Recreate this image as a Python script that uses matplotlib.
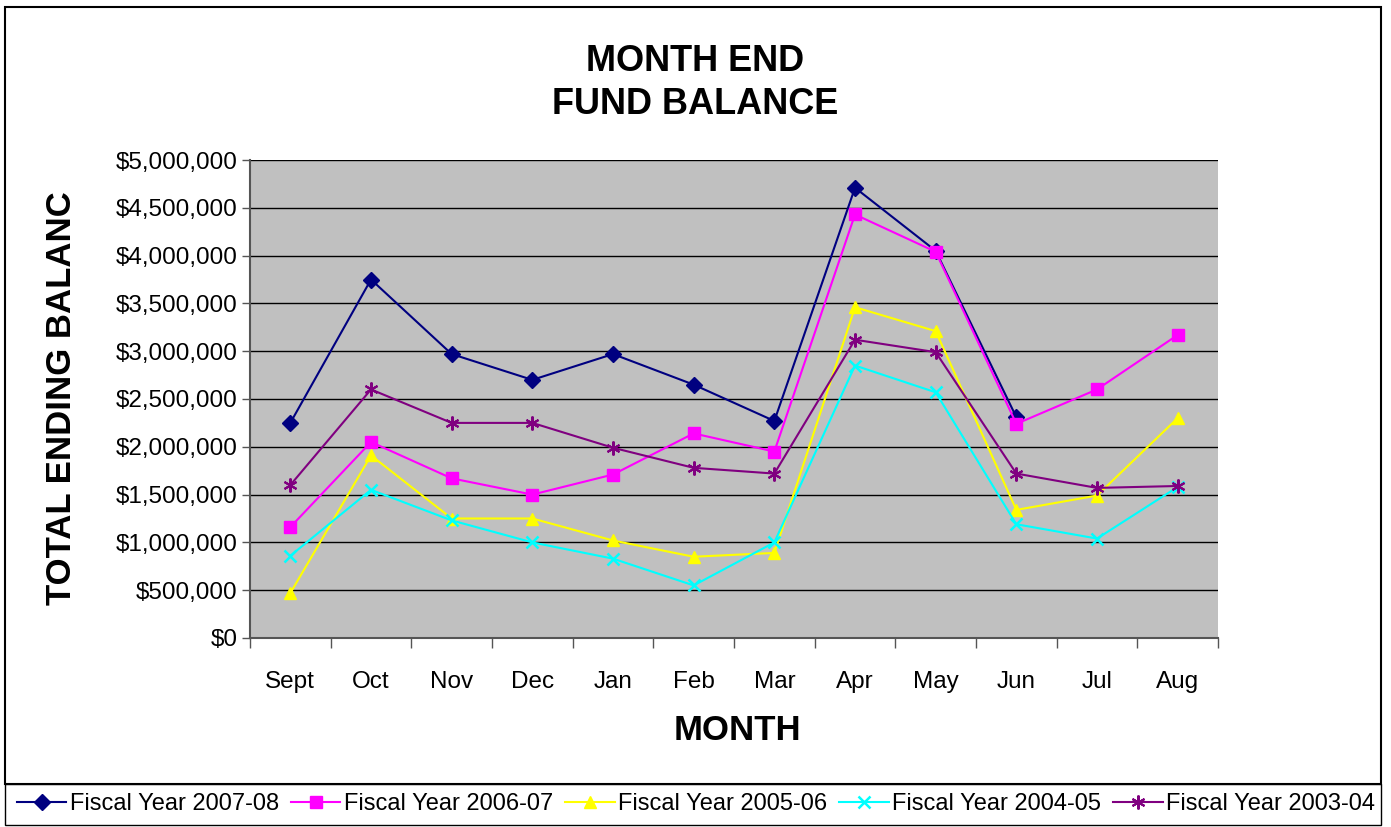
import numpy as np
import matplotlib
matplotlib.use('Agg')
import matplotlib.pyplot as plt
from matplotlib.patches import Rectangle
from matplotlib.ticker import FuncFormatter, MultipleLocator

plt.rcParams['font.family'] = ['Liberation Sans', 'DejaVu Sans']

months = ['Sept', 'Oct', 'Nov', 'Dec', 'Jan', 'Feb', 'Mar', 'Apr', 'May', 'Jun', 'Jul', 'Aug']

fy2007 = [2250000, 3750000, 2970000, 2700000, 2970000, 2650000, 2270000, 4710000, 4050000, 2310000, np.nan, np.nan]
fy2006 = [1160000, 2050000, 1670000, 1500000, 1710000, 2140000, 1950000, 4430000, 4040000, 2240000, 2600000, 3170000]
fy2005 = [470000, 1910000, 1250000, 1250000, 1020000, 850000, 890000, 3460000, 3210000, 1340000, 1490000, 2300000]
fy2004 = [860000, 1550000, 1230000, 1000000, 830000, 550000, 1000000, 2850000, 2570000, 1190000, 1040000, 1580000]
fy2003 = [1600000, 2600000, 2250000, 2250000, 1990000, 1780000, 1720000, 3120000, 2990000, 1720000, 1570000, 1590000]

series_names = ['Fiscal Year 2007-08', 'Fiscal Year 2006-07', 'Fiscal Year 2005-06',
                'Fiscal Year 2004-05', 'Fiscal Year 2003-04']

W, H = 1391, 827
fig = plt.figure(figsize=(W / 100, H / 100), dpi=100)
fig.patch.set_facecolor('white')

# chart border and legend border
fig.patches.append(Rectangle((5 / W, 1 - 784 / H), 1376 / W, 777 / H, transform=fig.transFigure,
                             fill=False, edgecolor='black', linewidth=1.5))
fig.patches.append(Rectangle((5 / W, 1 - 825 / H), 1376 / W, 41 / H, transform=fig.transFigure,
                             fill=False, edgecolor='black', linewidth=1.0))

ax = fig.add_axes([250 / W, 1 - 638 / H, 968 / W, 478 / H])
ax.set_facecolor('#C0C0C0')
x = np.arange(len(months))

ax.plot(x, fy2007, color='#000080', marker='D', markersize=8, linewidth=1.5, label=series_names[0])
ax.plot(x, fy2006, color='#FF00FF', marker='s', markersize=8, linewidth=1.5, label=series_names[1])
ax.plot(x, fy2005, color='#FFFF00', marker='^', markersize=9, linewidth=1.5, label=series_names[2])
ax.plot(x, fy2004, color='#00FFFF', marker='x', markersize=9, markeredgewidth=1.8, linewidth=1.5, label=series_names[3])
ax.plot(x, fy2003, color='#800080', marker=(6, 2, 0), markersize=10, markeredgewidth=1.5, linewidth=1.5, label=series_names[4])

ax.set_xlim(-0.5, 11.5)
ax.set_ylim(0, 5000000)
ax.yaxis.set_major_locator(MultipleLocator(500000))
ax.yaxis.set_major_formatter(FuncFormatter(lambda v, p: f'${v:,.0f}'))
ax.grid(axis='y', color='black', linewidth=1.0)
ax.set_axisbelow(True)

ax.set_xticks(x)
ax.set_xticklabels(months)
ax.set_xticks(np.arange(-0.5, 12, 1), minor=True)
ax.tick_params(axis='x', which='major', length=0, pad=24, labelsize=17.5)
ax.tick_params(axis='x', which='minor', length=7, width=1, direction='out', color='#555555')
ax.tick_params(axis='y', length=6, width=1, direction='out', pad=3, labelsize=17.5, color='#555555')

for side in ['top', 'right']:
    ax.spines[side].set_visible(False)
for side in ['left', 'bottom']:
    ax.spines[side].set_color('#555555')
    ax.spines[side].set_linewidth(1.5)

fig.text(695 / W, 1 - 83 / H, 'MONTH END\nFUND BALANCE', ha='center', va='center',
         fontsize=26, fontweight='bold', linespacing=1.3)
fig.text(737 / W, 1 - 730 / H, 'MONTH', ha='center', va='center', fontsize=25, fontweight='bold')
fig.text(62 / W, 1 - 398 / H, 'TOTAL ENDING BALANC', ha='center', va='center', rotation=90,
         fontsize=25, fontweight='bold')

handles, labels = ax.get_legend_handles_labels()
fig.legend(handles, labels, loc='center', bbox_to_anchor=(696 / W, 1 - 804 / H), ncol=5,
           frameon=False, fontsize=17, handlelength=2.1, handletextpad=0.15, columnspacing=0.5,
           borderaxespad=0)

fig.savefig('out.png', dpi=100, facecolor='white')
